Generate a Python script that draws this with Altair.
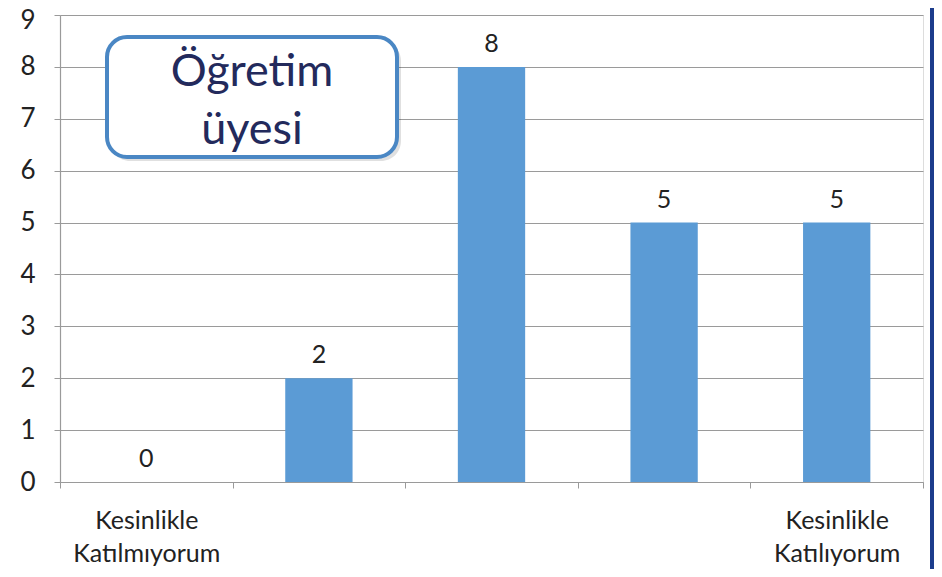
import altair as alt
import pandas as pd

# ---- data ----
categories = ["Kesinlikle Katılmıyorum", "Katılmıyorum", "Kararsızım", "Katılıyorum", "Kesinlikle Katılıyorum"]
values = [0, 2, 8, 5, 5]
shown_labels = [["Kesinlikle", "Katılmıyorum"], [], [], [], ["Kesinlikle", "Katılıyorum"]]
y_ticks = [0, 1, 2, 3, 4, 5, 6, 7, 8, 9]
title_text = "Öğretim\nüyesi"

FONT = "Lato"
BAR = "#5b9bd5"
GRID = "#9a9a9a"
TXT = "#222222"

df = pd.DataFrame({"cat": categories, "val": values})

# label expression: first / last categories get two-line labels, others blank
parts = []
for c, lab in zip(categories, shown_labels):
    if lab:
        arr = "[" + ",".join("'" + s + "'" for s in lab) + "]"
        parts.append(f"datum.value == '{c}' ? {arr} : ")
label_expr = "".join(parts) + "''"

W, H = 863, 467

x_enc = alt.X("cat:N", sort=categories, title=None,
              scale=alt.Scale(paddingInner=0, paddingOuter=0),
              axis=alt.Axis(labelAngle=0, labelExpr=label_expr, labelFont=FONT,
                            labelFontSize=25, labelColor=TXT, labelLineHeight=33,
                            labelPadding=20, tickBand="extent", tickSize=6,
                            tickColor=GRID, domainColor=GRID, domainWidth=1.2,
                            grid=False))
y_enc = alt.Y("val:Q", title=None,
              scale=alt.Scale(domain=[0, 9], nice=False),
              axis=alt.Axis(values=y_ticks, labelFont=FONT, labelFontSize=26,
                            labelColor=TXT, labelPadding=19, tickSize=6,
                            labelOffset=alt.condition(f"datum.value == {y_ticks[-1]}", alt.value(5), alt.value(0)),
                            tickColor=GRID, domainColor=GRID, domainWidth=1.2,
                            gridColor=GRID, gridWidth=1.2, grid=True))

base = alt.Chart(df)

bars = base.mark_bar(color=BAR, width=alt.RelativeBandSize(0.39)).encode(x=x_enc, y=y_enc)

vals = base.mark_text(font=FONT, fontSize=25, color=TXT, baseline="alphabetic", dy=-15).encode(
    x=alt.X("cat:N", sort=categories), y=alt.Y("val:Q"), text=alt.Text("val:Q"))

# annotation box
box_df = pd.DataFrame({"t": [title_text]})
shadow = alt.Chart(box_df).mark_rect(cornerRadius=20, fill="#000000", opacity=0.12).encode(
    x=alt.value(50), x2=alt.value(341), y=alt.value(26), y2=alt.value(146))
box = alt.Chart(box_df).mark_rect(cornerRadius=20, fill="white", stroke="#4a87c4", strokeWidth=4).encode(
    x=alt.value(47), x2=alt.value(337), y=alt.value(22), y2=alt.value(142))
title_txt = alt.Chart(box_df).mark_text(font=FONT, fontSize=45, color="#232a5c", baseline="middle",
                                        lineBreak="\n", lineHeight=58).encode(
    x=alt.value(192), y=alt.value(57), text="t:N")

# slide border strip on the right
border = alt.Chart(box_df).mark_rect(fill="#1c3c8c").encode(
    x=alt.value(870), x2=alt.value(890), y=alt.value(-10), y2=alt.value(560))

chart = alt.layer(bars, vals, shadow, box, title_txt, border).properties(
    width=W, height=H,
    autosize=alt.AutoSizeParams(type="none"),
    padding={"left": 52, "top": 7, "right": 11, "bottom": 87},
).configure_view(stroke=None).configure(background="white")

chart.save("out.html", embed_options={"renderer": "svg", "actions": False})
